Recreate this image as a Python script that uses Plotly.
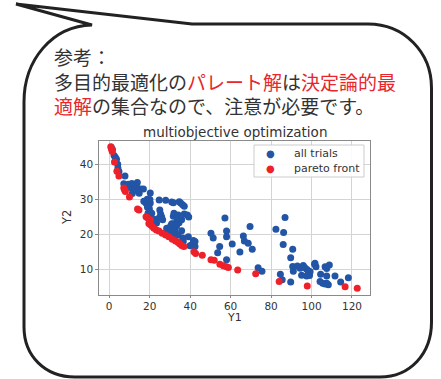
import plotly.graph_objects as go

# ---- data -----------------------------------------------------------------
trials_y1 = [1.0, 1.6, 2.4, 3.0, 3.6, 4.2, 4.3, 4.8,
             7.8, 7.2, 8.3, 9.5, 10.6, 11.2, 11.4, 12.1, 12.6, 13.4, 13.9, 14.8, 15.6, 16.9, 20.3,
             17.1, 18.1, 18.8, 19.4, 20.1, 20.3, 19.2, 19.8, 18.9, 20.1, 19.2, 19.4, 20.2, 21.0,
             24.7, 27.9, 30.9, 31.7, 34.6, 35.3, 36.3, 37.1,
             25.0, 25.4, 25.9, 24.6, 26.4, 22.1, 23.4, 21.8,
             31.7, 32.0, 34.1, 34.1, 33.6, 34.5, 35.8, 37.1, 38.6, 39.3,
             28.4, 29.7, 30.4, 31.7, 30.9, 33.3, 32.5, 35.8, 31.7, 28.4, 31.3, 33.3, 34.1, 36.3,
             36.6, 39.1, 39.9, 40.8, 41.6, 42.4, 42.4,
             50.3, 51.4, 54.6, 53.6, 57.2, 58.0, 58.0, 60.8, 58.0, 64.6, 66.3, 66.8, 68.7, 69.6,
             70.7, 73.6, 75.5,
             82.4, 86.9, 86.2, 86.0, 84.6, 85.5, 90.7, 89.7, 90.7, 91.0, 93.0, 94.3, 95.9, 96.6,
             97.6, 98.4, 99.3, 101.7, 102.2, 104.5, 106.7, 107.5, 108.8, 111.6, 118.2, 114.4,
             104.2, 105.5, 106.7, 107.5, 108.3, 95.1, 97.6, 89.7, 107.5, 99.0, 101.5]
trials_y2 = [44.8, 44.2, 42.5, 42.0, 41.4, 40.0, 38.9, 37.9,
             36.6, 34.4, 33.9, 34.3, 33.3, 34.5, 31.6, 32.5, 33.1, 34.0, 34.8, 31.7, 32.9, 32.9, 31.8,
             29.4, 28.9, 30.0, 29.5, 29.9, 28.9, 28.3, 27.4, 27.7, 26.4, 26.0, 25.4, 25.0, 26.0,
             29.8, 29.7, 29.2, 29.0, 29.3, 28.9, 28.4, 28.0,
             26.9, 25.8, 25.0, 24.6, 24.1, 24.3, 23.2, 23.9,
             25.1, 26.0, 25.5, 24.6, 24.0, 23.3, 24.1, 25.8, 25.5, 24.9,
             21.7, 21.6, 22.4, 23.0, 23.0, 22.4, 21.2, 21.0, 20.7, 20.3, 19.8, 19.9, 19.8, 18.9,
             17.9, 19.3, 16.7, 17.0, 18.2, 16.5, 17.9,
             20.3, 18.9, 16.5, 14.7, 24.6, 20.9, 19.3, 17.2, 12.7, 14.9, 19.5, 18.1, 17.4, 22.2,
             15.7, 10.4, 9.4,
             21.4, 24.8, 20.5, 17.1, 8.6, 7.0, 15.7, 13.3, 10.8, 9.4, 10.9, 10.3, 11.1, 10.5,
             10.0, 9.6, 9.3, 11.7, 10.7, 8.6, 10.7, 10.2, 11.2, 8.1, 7.6, 6.4,
             6.5, 6.0, 5.8, 6.0, 5.6, 8.3, 8.1, 6.4, 8.1, 8.2, 11.4]

pareto_y1 = [0.8, 1.1, 1.5, 2.6, 3.8, 4.8, 7.2, 7.6, 8.0, 10.0, 14.0, 14.7, 18.2, 18.9,
             20.4, 19.6, 20.4, 21.3, 22.1, 23.3, 24.6, 26.2, 27.9, 29.5, 31.2, 32.8, 34.0,
             34.8, 35.8, 36.9, 41.9, 42.7, 46.0, 50.3, 51.9, 54.7, 56.4, 58.0, 58.9, 63.5,
             72.4, 84.0, 97.9, 116.6, 122.6]
pareto_y2 = [45.0, 44.3, 43.6, 40.6, 38.0, 36.6, 33.2, 32.6, 32.2, 30.6, 27.2, 26.9, 25.0, 24.7,
             24.1, 23.1, 22.7, 22.2, 21.7, 21.2, 20.9, 20.3, 19.8, 19.3, 18.6, 18.1, 17.7,
             17.3, 16.8, 16.5, 15.0, 14.5, 14.0, 12.7, 12.6, 11.4, 11.0, 10.7, 10.5, 9.8,
             8.7, 6.5, 5.2, 5.0, 4.6]

x_ticks = [0, 20, 40, 60, 80, 100, 120]
y_ticks = [10, 20, 30, 40]
series_names = ["all trials", "pareto front"]

# ---- styling ---------------------------------------------------------------
W, H = 441, 379
BLUE = "#2255a6"
RED = "#ee2029"
TEXT = "#333333"
JP_RED = "#e8262c"
CHART_FONT = "DejaVu Sans"
JP_FONT = "Noto Sans CJK JP"
MARKER = 7


def px(x):
    return x / W


def py(y):
    return 1 - y / H


fig = go.Figure()
fig.add_trace(go.Scatter(x=trials_y1, y=trials_y2, mode="markers", name=series_names[0],
                         marker=dict(color=BLUE, size=MARKER, line=dict(width=0))))
fig.add_trace(go.Scatter(x=pareto_y1, y=pareto_y2, mode="markers", name=series_names[1],
                         marker=dict(color=RED, size=MARKER, line=dict(width=0))))

axis_common = dict(showgrid=True, gridcolor="#d4d4d4", gridwidth=1,
                   showline=True, linecolor="#8a8a8a", linewidth=1, mirror=True,
                   ticks="outside", tickcolor="#8a8a8a",
                   tickfont=dict(family=CHART_FONT, size=10.5, color=TEXT),
                   zeroline=False)

fig.update_layout(
    width=W, height=H,
    margin=dict(l=0, r=0, t=0, b=0),
    paper_bgcolor="white", plot_bgcolor="white",
    xaxis=dict(domain=[px(99.3), px(370)], range=[-4.9, 128.9], tickvals=x_ticks,
               ticklen=2, **axis_common),
    yaxis=dict(domain=[py(294.7), py(140.7)], range=[2.74, 46.7], tickvals=y_ticks,
               ticklen=3, **axis_common),
    showlegend=False,
)

# speech bubble outline
bubble = (
    f"M {px(92)},{py(25)} L {px(16)},{py(4)} L {px(192)},{py(24)} L {px(368)},{py(24)} "
    f"C {px(404)},{py(24)} {px(431.5)},{py(52)} {px(431.5)},{py(88)} "
    f"L {px(431.5)},{py(322)} "
    f"C {px(431.5)},{py(354)} {px(410)},{py(377)} {px(380)},{py(377)} "
    f"L {px(75)},{py(377)} "
    f"C {px(45)},{py(377)} {px(24)},{py(356)} {px(24)},{py(327)} "
    f"L {px(24)},{py(102)} "
    f"C {px(24)},{py(60)} {px(52)},{py(26)} {px(92)},{py(25)} Z"
)
fig.add_shape(type="path", path=bubble, xref="paper", yref="paper",
              line=dict(color="#222222", width=3), fillcolor="rgba(0,0,0,0)", layer="above")

# legend box with one row per series
fig.add_shape(type="rect", xref="paper", yref="paper",
              x0=px(254), x1=px(364), y0=py(177), y1=py(145),
              line=dict(color="#cccccc", width=1), fillcolor="rgba(255,255,255,0.9)",
              layer="above")
for name, color, yc in [(series_names[0], BLUE, 153.3), (series_names[1], RED, 169)]:
    fig.add_annotation(text="●", x=px(270.7), y=py(yc), xref="paper", yref="paper",
                       xanchor="center", yanchor="middle", showarrow=False,
                       font=dict(family=CHART_FONT, size=10, color=color))
    fig.add_annotation(text=name, x=px(291.5), y=py(yc), xref="paper", yref="paper",
                       xanchor="left", yanchor="middle", showarrow=False,
                       font=dict(family=CHART_FONT, size=11, color=TEXT))

# note text, one block of three lines
def red(s):
    return f"<span style='color:{JP_RED}'>{s}</span>"

note = "<br>".join([
    "参考：",
    "多目的最適化の" + red("パレート解") + "は" + red("決定論的最"),
    red("適解") + "の集合なので、注意が必要です。",
])
fig.add_annotation(text=note, x=px(52), y=py(81.5), xref="paper", yref="paper",
                   xanchor="left", yanchor="middle", align="left", showarrow=False,
                   font=dict(family=JP_FONT, size=19, color=TEXT))

# chart title and axis labels
fig.add_annotation(text="multiobjective optimization", x=px(234.5), y=py(131.5),
                   xref="paper", yref="paper", xanchor="center", yanchor="middle",
                   showarrow=False, font=dict(family=CHART_FONT, size=13.5, color=TEXT))
fig.add_annotation(text="Y1", x=px(234.5), y=py(317), xref="paper", yref="paper",
                   xanchor="center", yanchor="middle", showarrow=False,
                   font=dict(family=CHART_FONT, size=11, color=TEXT))
fig.add_annotation(text="Y2", x=px(67), y=py(218), xref="paper", yref="paper",
                   xanchor="center", yanchor="middle", showarrow=False, textangle=-90,
                   font=dict(family=CHART_FONT, size=11.5, color=TEXT))

fig.write_html("out.html")
